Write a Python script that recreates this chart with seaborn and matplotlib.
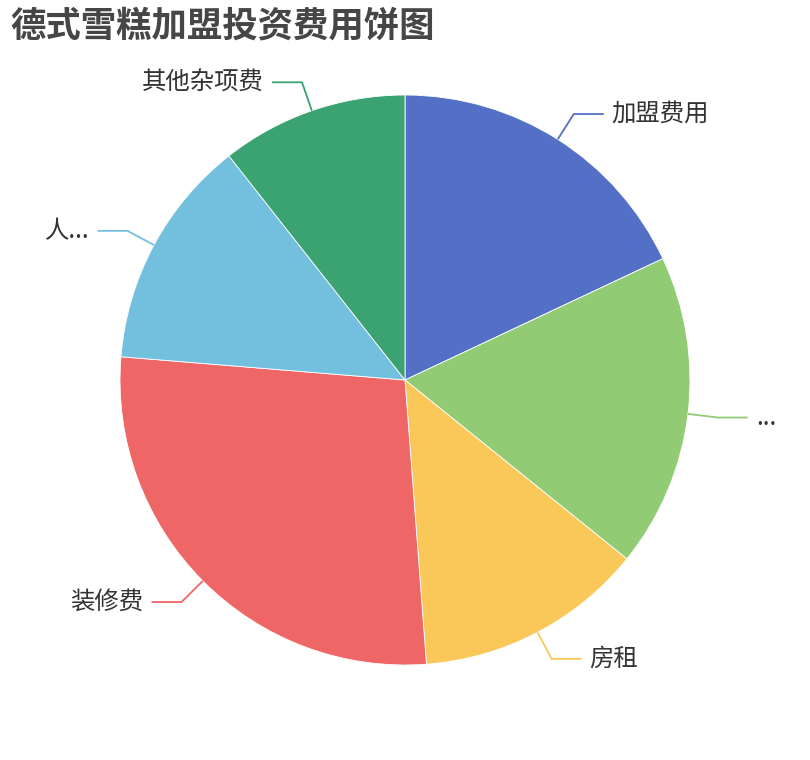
import numpy as np
import matplotlib
matplotlib.use("Agg")
import matplotlib.pyplot as plt
import seaborn as sns

# slice data (clockwise from 12 o'clock), shares in percent
names = ["加盟费用", "...", "房租", "装修费", "人...", "其他杂项费"]
shares = [18.0, 17.8, 13.0, 27.5, 13.1, 10.6]
colors = ["#5470c6", "#91cc75", "#fac858", "#ee6666", "#73c0de", "#3ba272"]
title = "德式雪糕加盟投资费用饼图"

sns.set_theme(style="white")
plt.rcParams['font.family'] = ['Noto Sans CJK SC', 'DejaVu Sans']

W, H = 810, 760
fig = plt.figure(figsize=(W / 100, H / 100), dpi=100)
ax = fig.add_axes([0, 0, 1, 1])

cx, cy, r = 405, 380, 285
wedges, _ = ax.pie(shares, colors=colors, startangle=90, counterclock=False,
                   center=(cx, cy), radius=r, frame=True,
                   wedgeprops=dict(edgecolor="white", linewidth=0.6))
ax.set_xlim(0, W)
ax.set_ylim(0, H)
ax.set_aspect("equal")
ax.axis("off")

# label lines: radial segment then horizontal segment, ECharts style
for w, name, col in zip(wedges, names, colors):
    mid = np.deg2rad((w.theta1 + w.theta2) / 2)
    x0, y0 = cx + r * np.cos(mid), cy + r * np.sin(mid)
    x1, y1 = cx + (r + 30) * np.cos(mid), cy + (r + 30) * np.sin(mid)
    side = 1 if np.cos(mid) >= 0 else -1
    x2 = x1 + side * 30
    ax.plot([x0, x1, x2], [y0, y1, y1], color=col, lw=1.3, solid_capstyle="butt")
    ax.text(x2 + side * 8, y1, name, ha="left" if side > 0 else "right",
            va="center", fontsize=17.6, color="#333333")

fig.text(10 / W, 1 - 26 / H, title, ha="left", va="center",
         fontsize=25.5, fontweight="heavy", color="#464646")

fig.savefig("out.png", dpi=100)
